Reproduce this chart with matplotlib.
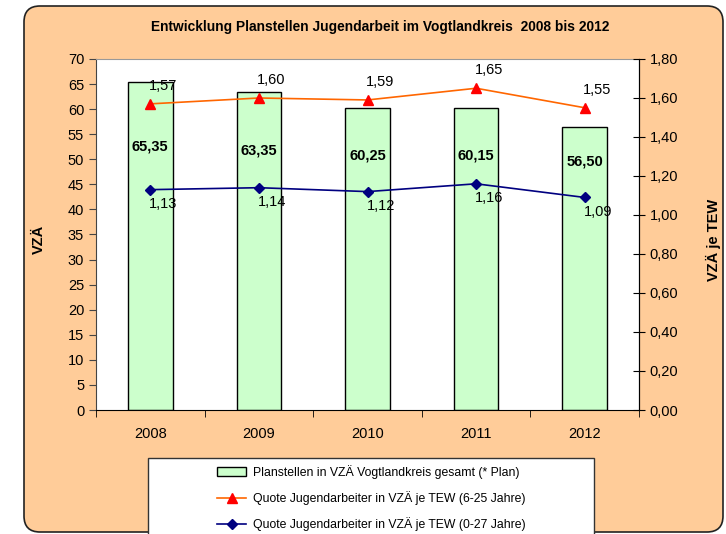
import matplotlib
matplotlib.use("Agg")
import matplotlib.pyplot as plt
import matplotlib.patches as mpatches
from matplotlib.transforms import IdentityTransform
from matplotlib.ticker import FuncFormatter, MultipleLocator
from matplotlib.lines import Line2D

plt.rcParams['font.family'] = ['Liberation Sans', 'DejaVu Sans']

years = ['2008', '2009', '2010', '2011', '2012']
planstellen = [65.35, 63.35, 60.25, 60.15, 56.50]
quote_6_25 = [1.57, 1.60, 1.59, 1.65, 1.55]
quote_0_27 = [1.13, 1.14, 1.12, 1.16, 1.09]

label_bars = 'Planstellen in VZÄ Vogtlandkreis gesamt (* Plan)'
label_red = 'Quote Jugendarbeiter in VZÄ je TEW (6-25 Jahre)'
label_blue = 'Quote Jugendarbeiter in VZÄ je TEW (0-27 Jahre)'


def de(v, digits=2):
    return f"{v:.{digits}f}".replace('.', ',')


fig = plt.figure(figsize=(7.26, 5.34), dpi=100)
fig.patch.set_facecolor('white')

# orange rounded background box (pixel coords)
bg = mpatches.FancyBboxPatch((24, 2), 699, 526,
                             boxstyle="round,pad=0,rounding_size=16",
                             transform=IdentityTransform(),
                             facecolor='#FFCC99', edgecolor='#222222', lw=1.2, zorder=-10)
fig.patches.append(bg)

fig.text(0.523, 0.949, 'Entwicklung Planstellen Jugendarbeit im Vogtlandkreis  2008 bis 2012',
         ha='center', va='center', fontsize=9.9, fontweight='bold')

ax = fig.add_axes([96 / 726, 1 - 410 / 534, 543 / 726, 351 / 534])
ax.set_facecolor('white')
x = list(range(len(years)))
ax.bar(x, planstellen, width=0.41, color='#CCFFCC', edgecolor='black', lw=1, zorder=2)
ax.set_xlim(-0.5, len(years) - 0.5)
ax.set_ylim(0, 70)
ax.yaxis.set_major_locator(MultipleLocator(5))
ax.set_xticks(x)
ax.set_xticklabels(years, fontsize=10.5)
ax.set_xticks([i - 0.5 for i in range(len(years) + 1)], minor=True)
ax.tick_params(axis='x', which='major', length=0, pad=12)
ax.tick_params(axis='x', which='minor', length=5, direction='out', color='black')
ax.tick_params(axis='y', length=5, direction='out', labelsize=10.5, color='#444444')
ax.set_ylabel('VZÄ', fontsize=10.5, fontweight='bold')
ax.yaxis.set_label_coords(-0.092, 0.485)
ax.spines['top'].set_color('#999999')
ax.spines['left'].set_color('#444444')
ax.spines['bottom'].set_color('black')

for xi, v in zip(x, planstellen):
    ax.text(xi, 31.8 + 0.316 * v, de(v), ha='center', va='center',
            fontsize=10.5, fontweight='bold', zorder=5)

ax2 = ax.twinx()
ax2.set_ylim(0, 1.8)
ax2.yaxis.set_major_locator(MultipleLocator(0.2))
ax2.yaxis.set_major_formatter(FuncFormatter(lambda v, p: de(v)))
ax2.tick_params(axis='y', length=8, direction='inout', labelsize=10.5, color='black')
ax2.plot(x, quote_6_25, color='#FF6600', lw=1.2, marker='^', ms=7,
         mfc='#FF0000', mec='#FF0000', zorder=3)
ax2.plot(x, quote_0_27, color='#000080', lw=1.2, marker='D', ms=5,
         mfc='#000080', mec='#000080', zorder=3)
for xi, v in zip(x, quote_6_25):
    ax2.annotate(de(v), (xi, v), xytext=(9, 13), textcoords='offset points',
                 ha='center', va='center', fontsize=10.5)
for xi, v in zip(x, quote_0_27):
    ax2.annotate(de(v), (xi, v), xytext=(9.5, -10.5), textcoords='offset points',
                 ha='center', va='center', fontsize=10.5)
ax2.set_ylabel('VZÄ je TEW', fontsize=10.5, fontweight='bold')
ax2.yaxis.set_label_coords(1.123, 0.485)
for s in ['top', 'left', 'bottom']:
    ax2.spines[s].set_visible(False)
ax2.spines['right'].set_color('black')

# legend box
lbox = mpatches.Rectangle((148, -10), 446, 534 - 458 + 10, transform=IdentityTransform(),
                          facecolor='white', edgecolor='#333333', lw=1, zorder=2)
fig.patches.append(lbox)

handles = [
    mpatches.Patch(facecolor='#CCFFCC', edgecolor='black', lw=1),
    Line2D([], [], color='#FF6600', lw=1.2, marker='^', ms=7, mfc='#FF0000', mec='#FF0000'),
    Line2D([], [], color='#000080', lw=1.2, marker='D', ms=5, mfc='#000080', mec='#000080'),
]
fig.legend(handles, [label_bars, label_red, label_blue], loc='upper left',
           bbox_to_anchor=(211 / 726, 1 - 459 / 534), frameon=False, fontsize=8.8,
           handlelength=2.4, handletextpad=0.5, labelspacing=1.0, borderpad=0)

fig.savefig('out.png', dpi=100)
